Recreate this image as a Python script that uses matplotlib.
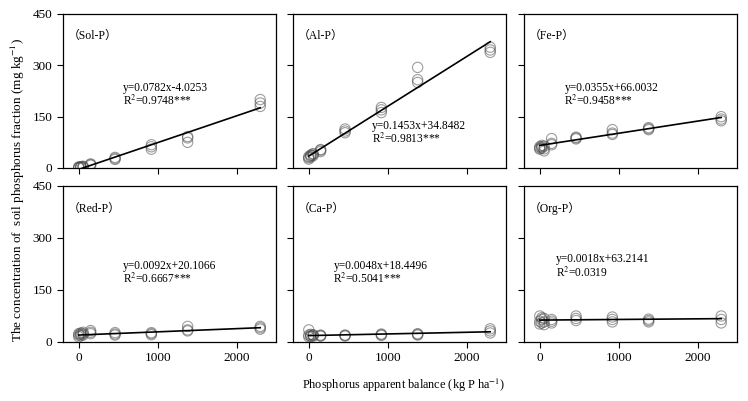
import matplotlib
matplotlib.use("Agg")
import matplotlib.pyplot as plt
import numpy as np

plt.rcParams['font.family'] = ['Liberation Serif', 'Noto Sans CJK SC']
plt.rcParams['mathtext.fontset'] = 'stix'

# x levels (kg P ha-1), 3 replicates each
x_levels = [0, 25, 55, 150, 460, 920, 1380, 2300]

names = ["Sol-P", "Al-P", "Fe-P", "Red-P", "Ca-P", "Org-P"]
slopes = [0.0782, 0.1453, 0.0355, 0.0092, 0.0048, 0.0018]
intercepts = [-4.0253, 34.8482, 66.0032, 20.1066, 18.4496, 63.2141]
eq_text = ["y=0.0782x-4.0253", "y=0.1453x+34.8482", "y=0.0355x+66.0032",
           "y=0.0092x+20.1066", "y=0.0048x+18.4496", "y=0.0018x+63.2141"]
r2_text = ["0.9748***", "0.9813***", "0.9458***", "0.6667***", "0.5041***", "0.0319"]

# observed values per x level (3 replicates)
sol_p = [[0, 2, 3], [1, 3, 4], [2, 4, 5], [8, 10, 12], [25, 28, 31],
         [55, 62, 68], [75, 88, 92], [180, 190, 200]]
al_p = [[26, 30, 33], [32, 36, 38], [36, 40, 42], [48, 52, 54], [103, 108, 114],
        [162, 170, 177], [250, 258, 294], [338, 345, 353]]
fe_p = [[55, 58, 62], [58, 62, 66], [50, 56, 64], [68, 72, 86], [85, 88, 90],
        [98, 102, 112], [112, 115, 118], [138, 143, 150]]
red_p = [[15, 20, 24], [18, 22, 26], [20, 24, 28], [24, 28, 33], [20, 23, 27],
         [21, 24, 27], [32, 35, 45], [37, 41, 45]]
ca_p = [[15, 20, 35], [16, 18, 22], [17, 19, 21], [17, 18, 20], [17, 19, 20],
        [19, 21, 23], [20, 22, 24], [26, 32, 38]]
org_p = [[52, 60, 75], [55, 65, 70], [50, 58, 68], [55, 60, 65], [62, 68, 75],
         [58, 65, 72], [58, 62, 66], [55, 65, 75]]
data = [sol_p, al_p, fe_p, red_p, ca_p, org_p]

# text placement (axes fraction)
eq_pos = [(0.28, 0.52), (0.37, 0.275), (0.19, 0.52), (0.28, 0.49), (0.19, 0.49), (0.15, 0.53)]

W, H = 748, 401
fig = plt.figure(figsize=(W/100, H/100), dpi=100)
lefts = [63, 293, 524]
rows = [(14, 168), (186, 342)]
axw = 213

for i in range(6):
    r, c = divmod(i, 3)
    top, bot = rows[r]
    ax = fig.add_axes([lefts[c]/W, 1 - bot/H, axw/W, (bot-top)/H])
    xs = np.repeat(x_levels, 3)
    ys = np.array(data[i]).ravel()
    ax.scatter(xs, ys, s=55, facecolors='none', edgecolors=(0.3, 0.3, 0.3, 0.55), linewidths=0.8, zorder=3)
    lx = np.array([x_levels[0], x_levels[-1]])
    ax.plot(lx, slopes[i]*lx + intercepts[i], color='black', lw=1.2, zorder=4)
    ax.set_xlim(-200, 2500)
    ax.set_ylim(0, 450)
    ax.set_yticks([0, 150, 300, 450])
    ax.set_xticks([0, 1000, 2000])
    ax.tick_params(direction='out', length=4, width=0.8, labelsize=9.5, top=False, right=False)
    if c != 0:
        ax.set_yticklabels([])
    if r == 0:
        ax.set_xticklabels([])
    for s in ax.spines.values():
        s.set_linewidth(0.9)
    ax.text(0.02, 0.855, "（" + names[i] + "）", transform=ax.transAxes, fontsize=8.5,
            family=['Liberation Serif', 'Noto Sans CJK SC'], va='center')
    ex, ey = eq_pos[i]
    ax.text(ex, ey, eq_text[i], transform=ax.transAxes, fontsize=8.3, va='center')
    ax.text(ex, ey - 0.085, "R$^{2}$=" + r2_text[i], transform=ax.transAxes, fontsize=8.3, va='center')

fig.text(18/W, 1 - 190/H, "The concentration of  soil phosphorus fraction (mg kg$^{-1}$)",
         rotation=90, va='center', ha='center', fontsize=9.5)
fig.text(404/W, 1 - 385/H, "Phosphorus apparent balance (kg P ha$^{-1}$)",
         va='center', ha='center', fontsize=8.8)

fig.savefig("out.png", dpi=100)
